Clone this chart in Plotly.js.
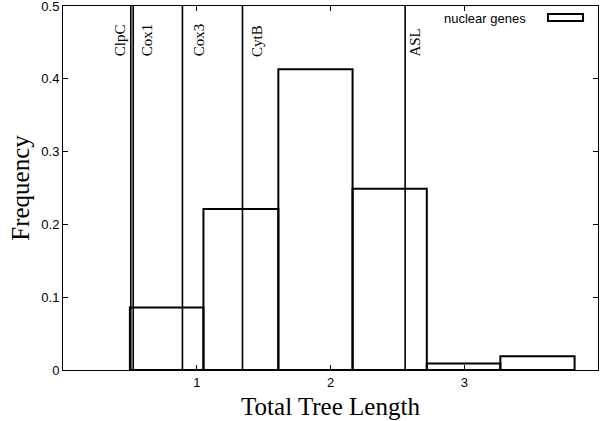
<!DOCTYPE html>
<html>
<head>
<meta charset="utf-8">
<script src="https://cdn.plot.ly/plotly-3.0.1.min.js"></script>
<style>
  html, body { margin: 0; padding: 0; background: #ffffff; }
  #chart { width: 600px; height: 421px; }
</style>
</head>
<body>
<div id="chart"></div>
<script>
// Histogram of total tree length for nuclear genes
const binEdges = [0.50, 1.05, 1.61, 2.165, 2.72, 3.27, 3.825];
const binFreq = [0.086, 0.221, 0.413, 0.249, 0.009, 0.019];

// Chloroplast / mitochondrial genes marked as vertical lines
const geneNames = ['ClpC', 'Cox1', 'Cox3', 'CytB', 'ASL'];
const geneLength = [0.507, 0.525, 0.893, 1.342, 2.558];

const legendName = 'nuclear genes';

// label nudges in pixels (gnuplot put them beside the lines)
const labelShift = { ClpC: -10, Cox1: 14, Cox3: 16, CytB: 15, ASL: 10 };

const binLeft = binEdges.slice(0, -1);
const binWidth = binLeft.map((e, i) => binEdges[i + 1] - e);

const histTrace = {
  type: 'bar',
  x: binLeft,
  y: binFreq,
  width: binWidth,
  offset: 0,
  name: legendName,
  marker: { color: 'rgba(0,0,0,0)', line: { color: '#000', width: 2 } },
  showlegend: false,
  hoverinfo: 'x+y'
};

const shapes = geneLength.map(v => ({
  type: 'line', xref: 'x', yref: 'paper',
  x0: v, x1: v, y0: 0, y1: 1,
  line: { color: '#000', width: 1.6 }
}));

// hand-drawn gnuplot style key: text, then hollow box
shapes.push({
  type: 'rect', xref: 'paper', yref: 'paper',
  x0: 0.9065, x1: 0.972, y0: 0.9588, y1: 0.978,
  line: { color: '#000', width: 2 }, fillcolor: 'rgba(0,0,0,0)'
});

const annotations = geneNames.map((name, i) => ({
  x: geneLength[i], y: 0.428, xref: 'x', yref: 'y',
  text: name, showarrow: false, textangle: -90,
  xanchor: 'center', yanchor: 'bottom',
  xshift: labelShift[name],
  font: { family: 'Liberation Serif, Times New Roman, serif', size: 15, color: '#000' }
}));

annotations.push({
  x: 0.869, y: 0.967, xref: 'paper', yref: 'paper',
  text: legendName, showarrow: false,
  xanchor: 'right', yanchor: 'middle',
  font: { family: 'Liberation Sans, Arial, sans-serif', size: 13, color: '#000' }
});

const layout = {
  width: 600,
  height: 421,
  margin: { l: 63, r: 2, t: 6, b: 51 },
  paper_bgcolor: '#ffffff',
  plot_bgcolor: '#ffffff',
  showlegend: false,
  font: { family: 'Liberation Sans, Arial, sans-serif', size: 13, color: '#000' },
  xaxis: {
    range: [0, 4],
    tickvals: [1, 2, 3],
    ticks: 'inside',
    ticklen: 5,
    tickcolor: '#000',
    ticklabeloverflow: 'allow',
    showline: true,
    linecolor: '#000',
    linewidth: 1,
    mirror: 'allticks',
    showgrid: false,
    zeroline: false,
    title: {
      text: 'Total Tree Length',
      font: { family: 'Liberation Serif, Times New Roman, serif', size: 25, color: '#000' },
      standoff: 8
    }
  },
  yaxis: {
    range: [0, 0.5],
    dtick: 0.1,
    ticks: 'inside',
    ticklen: 5,
    tickcolor: '#000',
    ticklabeloverflow: 'allow',
    showline: true,
    linecolor: '#000',
    linewidth: 1,
    mirror: 'allticks',
    showgrid: false,
    zeroline: false,
    title: {
      text: 'Frequency',
      font: { family: 'Liberation Serif, Times New Roman, serif', size: 25, color: '#000' },
      standoff: 4
    }
  },
  shapes: shapes,
  annotations: annotations
};

Plotly.newPlot('chart', [histTrace], layout, { displayModeBar: false, staticPlot: true });
</script>
</body>
</html>
